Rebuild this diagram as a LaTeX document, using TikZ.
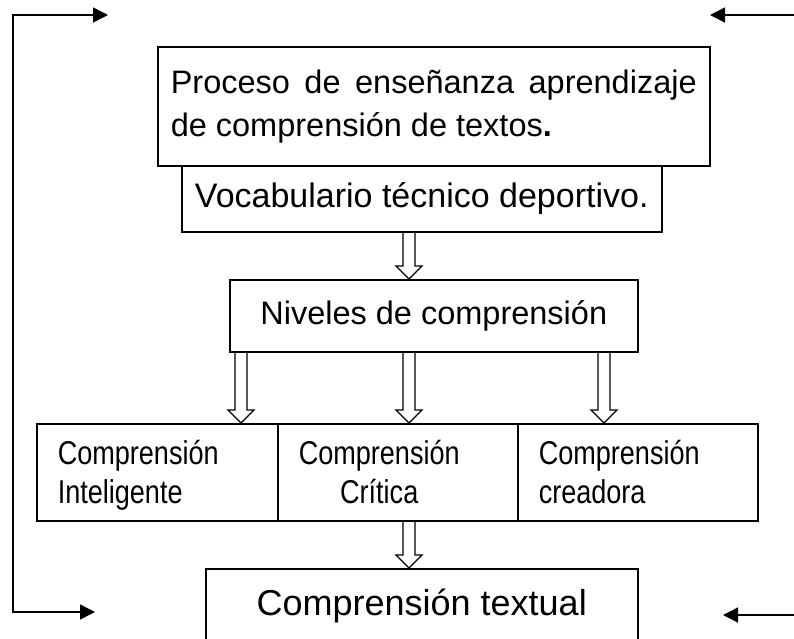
\documentclass[tikz,border=0pt]{standalone}
\usepackage{fontspec}
\setmainfont{Liberation Sans}
\newfontfamily\narrowfont[FakeStretch=0.82]{Liberation Sans}
\usepackage{tikz}
\usetikzlibrary{
  positioning,
  calc,
  arrows.meta
}
\tikzstyle{box}=[draw, line width=1.5pt, rectangle, anchor=north west, inner ysep=0pt]
\tikzstyle{rowbox}=[box, minimum height=97pt, inner xsep=21pt, align=left,
  text height=32pt, text depth=47pt]
\tikzstyle{feed}=[line width=1.5pt, >={Triangle[length=15pt, width=15pt]}]
\tikzstyle{hollow}=[line width=1.3pt, line join=miter, to path={let \p1=(\tikztostart), \p2=(\tikztotarget) in
  (\x1-6pt,\y1) -- (\x1-6pt,\y2+13pt) -- (\x1-13pt,\y2+13pt) -- (\x1,\y2)
  -- (\x1+13pt,\y2+13pt) -- (\x1+6pt,\y2+13pt) -- (\x1+6pt,\y1)}]

\begin{document}
\begin{tikzpicture}[x=1pt, y=-1pt]
      \def\mainfs{\fontsize{32.5}{43}\selectfont}
      \def\rowfs{\narrowfont\fontsize{33}{39}\selectfont}

      \clip (0,0) rectangle (794,638);

      % 矢印の列
      \coordinate (cl) at (241,0);
      \coordinate (cm) at (409,0);
      \coordinate (cr) at (604,0);

      % 上の二つの箱
      \node[box, minimum width=552pt, minimum height=119pt, text width=526pt, inner xsep=13pt,
        align=justify, font=\mainfs] (proc) at (157,46)
        {Proceso de enseñanza aprendizaje\linebreak de comprensión de textos\textbf{.}};
      \node[box, minimum width=480pt, minimum height=66pt, font=\fontsize{34}{40}\selectfont]
        (voc) at (181,165) {Vocabulario técnico deportivo.};

      % 中央の箱
      \node[box, minimum width=408pt, minimum height=72pt, font=\mainfs] (niv) at (229,279)
        {Niveles de comprensión};

      % 三つの水準
      \node[rowbox, minimum width=241pt, text width=199pt, font=\rowfs] (intel) at (36,423)
        {Comprensión\\Inteligente};
      \node[rowbox, minimum width=240pt, text width=198pt, font=\rowfs] (crit) at (277,423)
        {\begin{tabular}[t]{@{}c@{}}Comprensión\\Crítica\end{tabular}};
      \node[rowbox, minimum width=240pt, text width=198pt, font=\rowfs] (crea) at (517,423)
        {Comprensión\\creadora};

      % 下の箱
      \node[box, minimum width=432pt, minimum height=74pt, font=\fontsize{36}{40}\selectfont]
        (txt) at (205,568) {Comprensión textual};

      % 白抜きの矢印
      \draw[hollow] (voc.south -| cm) to (niv.north -| cm);
      \draw[hollow] (niv.south -| cl) to (intel.north -| cl);
      \draw[hollow] (niv.south -| cm) to (crit.north -| cm);
      \draw[hollow] (niv.south -| cr) to (crea.north -| cr);
      \draw[hollow] (crit.south -| cm) to (txt.north -| cm);

      % 左の帰還線
      \coordinate (tl) at (108,15);
      \coordinate (bl) at (95,612);
      \draw[feed, <->] (tl) -- (13,15) -- (13,612) -- (bl);

      % 右の矢印
      \coordinate (tr0) at (794,15);
      \coordinate (tr) at (710,15);
      \coordinate (br0) at (794,615);
      \coordinate (br) at (723,615);
      \draw[feed, ->] (tr0) -- (tr);
      \draw[feed, ->] (br0) -- (br);
    \end{tikzpicture}
\end{document}
